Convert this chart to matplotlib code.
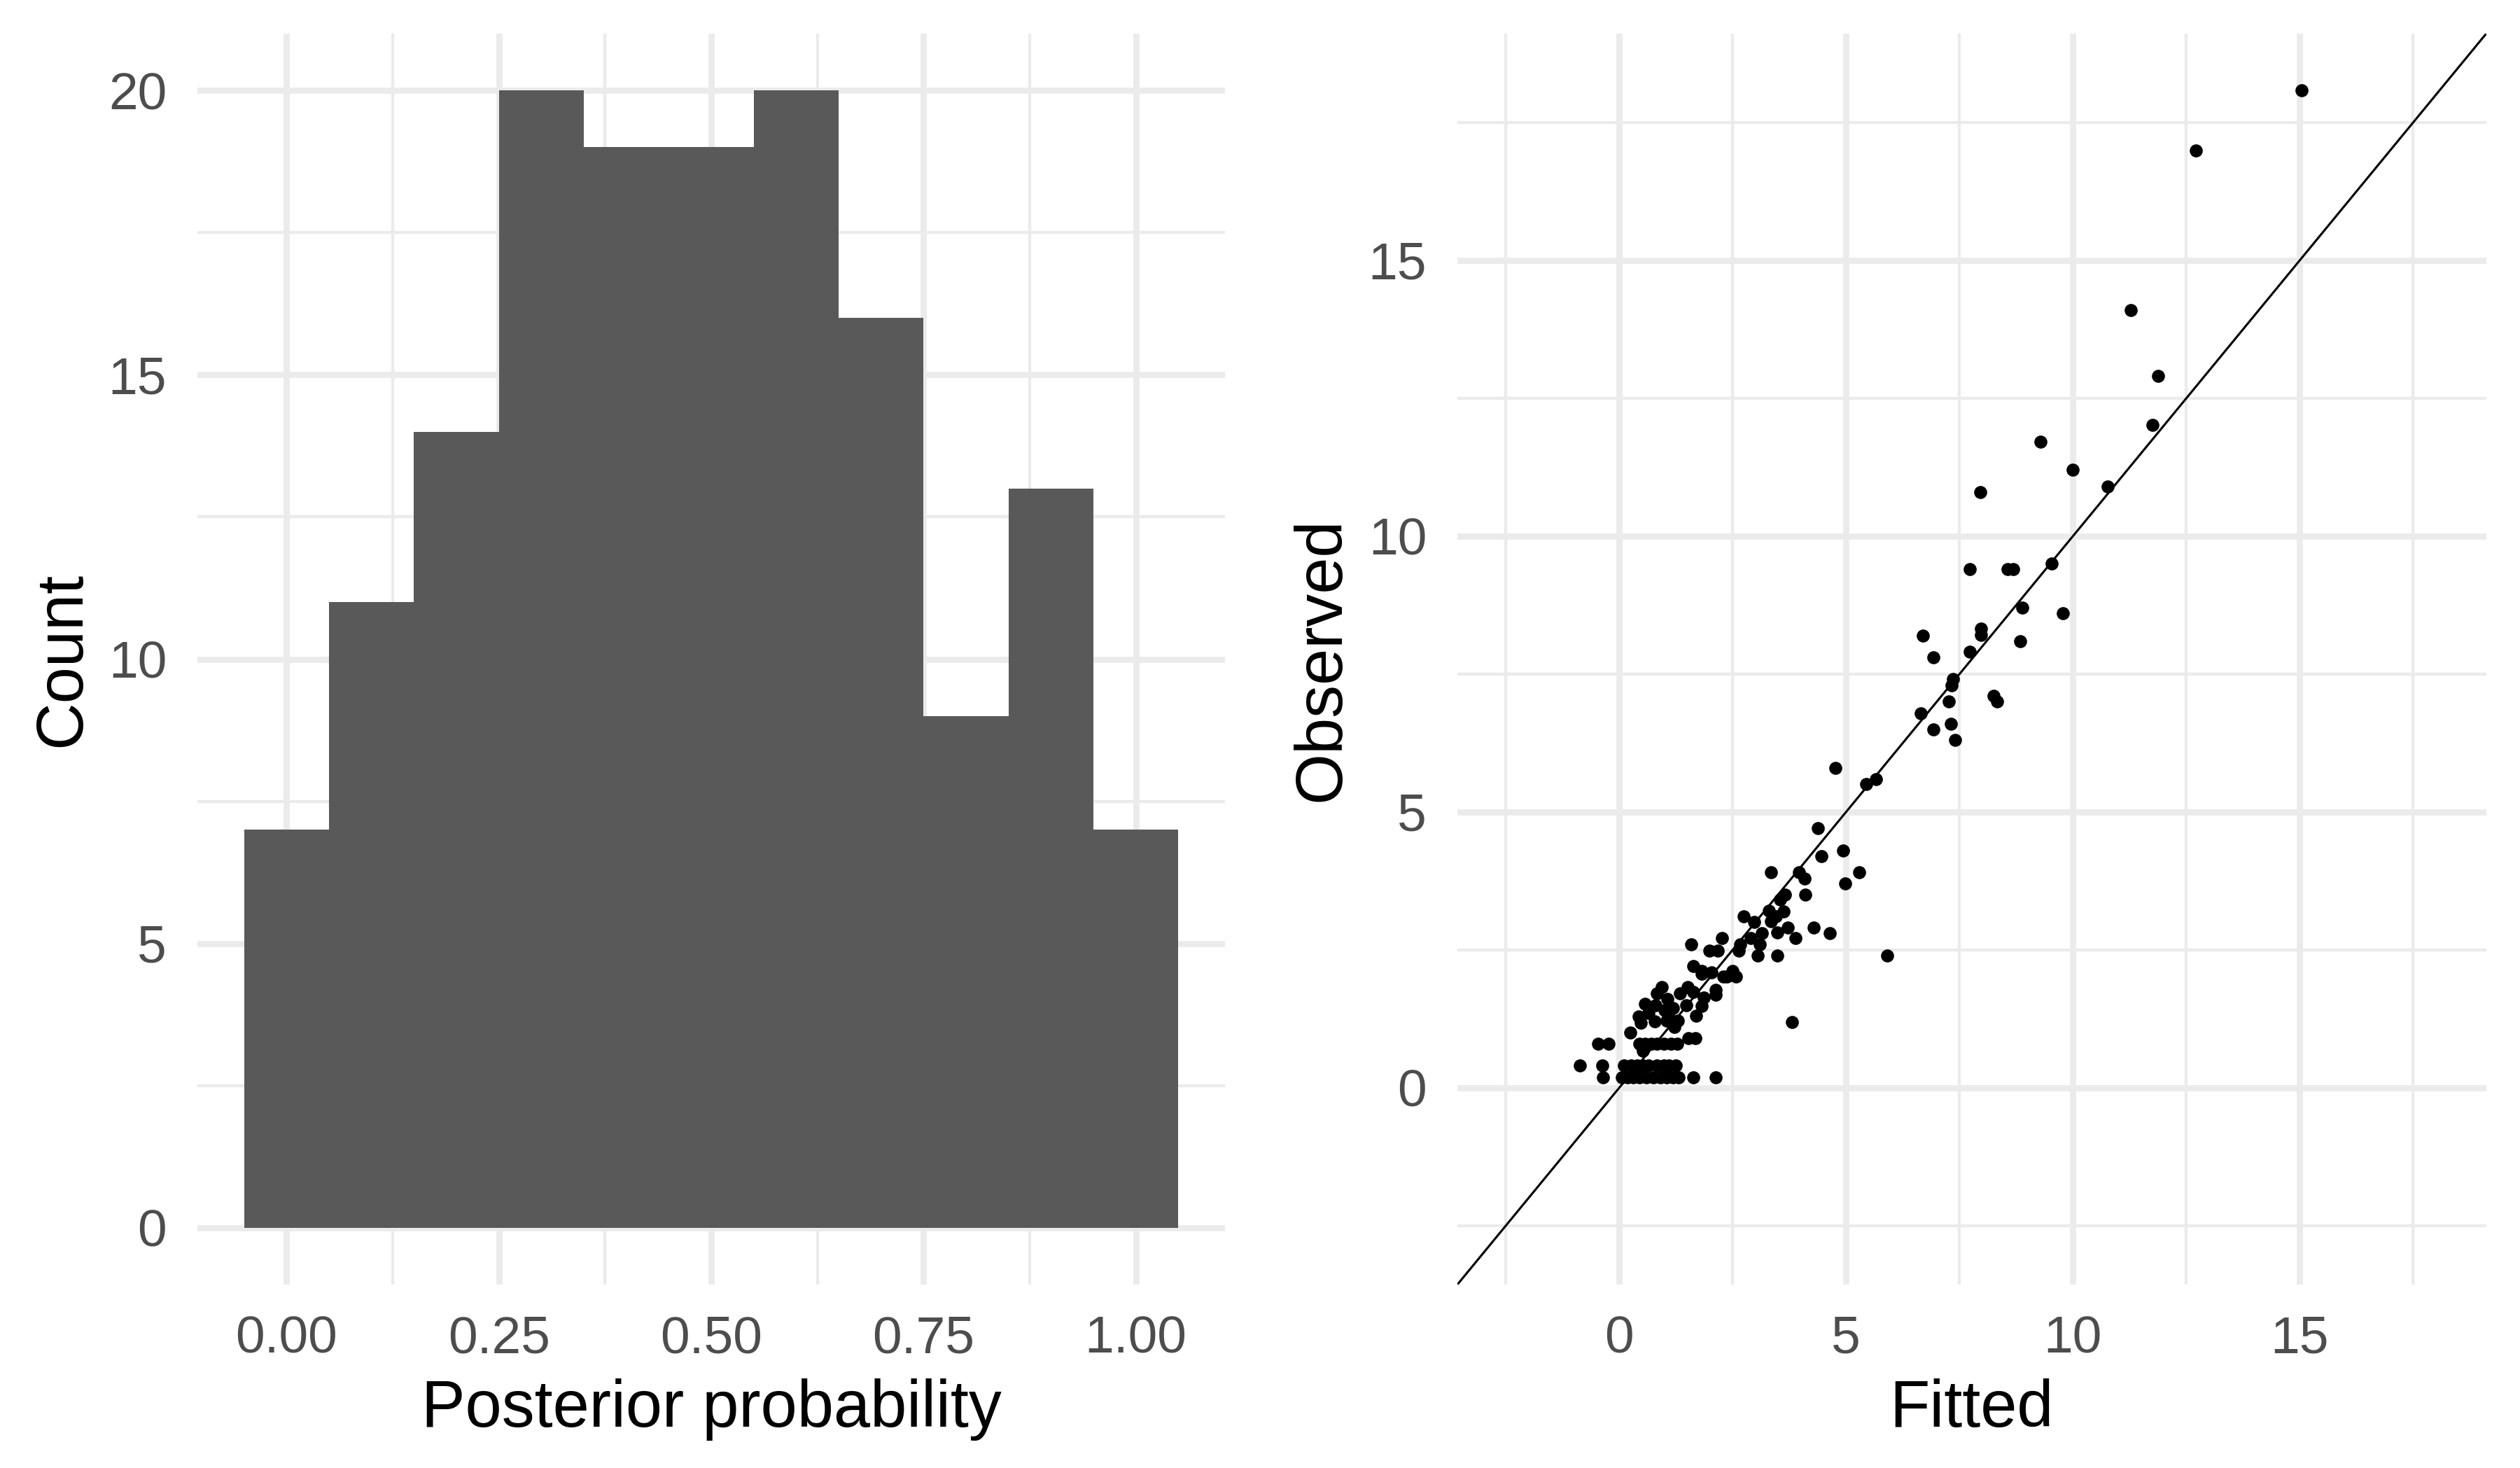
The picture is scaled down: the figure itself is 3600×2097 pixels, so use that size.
import matplotlib
matplotlib.use("Agg")
import matplotlib.pyplot as plt
import numpy as np

# ---------------- data ----------------
# Histogram of posterior probabilities (bin width 0.1)
bin_centers = [0.0, 0.1, 0.2, 0.3, 0.4, 0.5, 0.6, 0.7, 0.8, 0.9, 1.0]
bin_counts = [7, 11, 14, 20, 19, 19, 20, 16, 9, 13, 7]
bin_width = 0.1

# Scatter: fitted vs observed
fitted = [
    -0.87, -0.38, -0.36, -0.46, -0.23, 0.24,
    0.05, 0.18, 0.31, 0.45, 0.60, 0.75, 0.90, 1.05, 1.18, 1.30, 1.63, 2.12,
    0.11, 0.26, 0.39, 0.52, 0.65, 0.83, 0.98, 1.09, 1.24,
    0.52,
    0.44, 0.57, 0.70, 0.83, 0.98, 1.14, 1.27,
    1.53, 1.68,
    0.42, 0.57, 0.47, 0.78, 0.83, 0.94, 0.80, 1.06, 1.19, 1.11, 1.29, 1.04, 1.21,
    1.34, 1.50, 1.63, 1.47, 1.70, 1.81, 1.86, 2.12, 2.12, 2.37, 2.58, 1.81,
    1.00, 0.65,
    1.58, 2.27, 1.99, 2.17, 2.66, 2.63, 2.74, 2.97, 2.89, 3.15, 3.10, 3.05, 3.48,
    3.30, 3.35, 3.45, 3.62, 3.48, 3.72, 3.89, 1.63, 1.81, 2.04, 2.30, 2.50,
    4.38, 4.46, 4.94, 3.34, 3.96, 4.09, 5.29, 4.98, 4.10, 3.66, 3.54, 4.28, 4.64,
    3.81, 5.91,
    4.77, 5.44, 5.66,
    10.00, 10.76, 7.96, 7.72, 8.56, 8.69, 9.53, 8.88, 9.78, 6.70, 7.98, 7.98,
    8.84, 6.92, 7.72, 7.36, 7.32, 8.25, 8.33, 7.27, 6.65, 7.31, 6.92, 7.41,
    15.04, 12.71, 11.28, 11.87, 11.75, 9.29,
]
observed = [
    0.40, 0.40, 0.19, 0.80, 0.80, 1.00,
    0.19, 0.19, 0.19, 0.19, 0.19, 0.19, 0.19, 0.19, 0.19, 0.19, 0.19, 0.19,
    0.40, 0.40, 0.40, 0.40, 0.40, 0.40, 0.40, 0.40, 0.40,
    0.67,
    0.80, 0.80, 0.80, 0.80, 0.80, 0.80, 0.80,
    0.90, 0.90,
    1.29, 1.52, 1.18, 1.20, 1.71, 1.82, 1.50, 1.61, 1.44, 1.25, 1.22, 1.22, 1.10,
    1.71, 1.82, 1.73, 1.50, 1.31, 1.48, 1.63, 1.77, 1.69, 2.01, 2.01, 2.07,
    1.40, 1.35,
    2.60, 2.71, 2.49, 2.49, 2.60, 2.49, 3.11, 3.00, 2.71, 2.80, 2.60, 2.39, 2.39,
    3.21, 3.02, 3.10, 3.19, 2.81, 2.90, 2.71, 2.20, 2.11, 2.09, 2.01, 2.11,
    4.70, 4.20, 4.30, 3.90, 3.90, 3.79, 3.90, 3.70, 3.50, 3.50, 3.41, 2.90, 2.80,
    1.19, 2.40,
    5.80, 5.50, 5.60,
    11.20, 10.90, 10.80, 9.40, 9.40, 9.40, 9.50, 8.70, 8.60, 8.20, 8.32, 8.21,
    8.10, 7.80, 7.90, 7.41, 7.30, 7.11, 7.00, 7.00, 6.79, 6.60, 6.50, 6.30,
    18.08, 16.99, 14.10, 12.91, 12.01, 11.71,
]

hist_xticks = [0.0, 0.25, 0.5, 0.75, 1.0]
hist_xticklabels = ["0.00", "0.25", "0.50", "0.75", "1.00"]
hist_yticks = [0, 5, 10, 15, 20]
sc_ticks = [0, 5, 10, 15]

# ---------------- style ----------------
plt.rcParams['font.family'] = ['Liberation Sans', 'DejaVu Sans']
GRID = "#EBEBEB"
TICKC = "#4D4D4D"
TICK_FS = 18
TITLE_FS = 22.5
MAJ_LW = 2.1
MIN_LW = 1.05

fig = plt.figure(figsize=(12, 6.99), dpi=300)
ax1 = fig.add_axes([0.0783, 0.1249, 0.4078, 0.8522])
ax2 = fig.add_axes([0.5783, 0.1249, 0.4083, 0.8522])


def style(ax):
    for s in ax.spines.values():
        s.set_visible(False)
    ax.set_axisbelow(True)
    ax.grid(True, which='major', color=GRID, linewidth=MAJ_LW)
    ax.grid(True, which='minor', color=GRID, linewidth=MIN_LW)
    ax.tick_params(which='both', length=0)
    ax.tick_params(which='major', labelsize=TICK_FS, labelcolor=TICKC, pad=10.5)


# ---------------- histogram ----------------
ax1.bar(bin_centers, bin_counts, width=bin_width, color="#595959",
        edgecolor='none', linewidth=0)
xlo = min(bin_centers) - bin_width / 2
xhi = max(bin_centers) + bin_width / 2
xr = xhi - xlo
ax1.set_xlim(xlo - 0.05 * xr, xhi + 0.05 * xr)
ymax = max(bin_counts)
ax1.set_ylim(-0.05 * ymax, ymax * 1.05)
ax1.set_xticks(hist_xticks)
ax1.set_xticklabels(hist_xticklabels)
ax1.set_xticks([0.125, 0.375, 0.625, 0.875], minor=True)
ax1.set_yticks(hist_yticks)
ax1.set_yticks([2.5, 7.5, 12.5, 17.5], minor=True)
style(ax1)
ax1.set_xlabel("Posterior probability", fontsize=TITLE_FS, color='black', labelpad=5)
ax1.set_ylabel("Count", fontsize=TITLE_FS, color='black', labelpad=5)

# ---------------- scatter ----------------
lo = -2.54
hi = max(observed)
r = hi - lo
lim = (lo - 0.05 * r, hi + 0.05 * r)
ax2.scatter(fitted, observed, s=20, color='black', linewidths=0, zorder=3)
ax2.axline((0, 0), slope=1, color='black', linewidth=0.75, zorder=2)
ax2.set_xlim(lim)
ax2.set_ylim(lim)
ax2.set_xticks(sc_ticks)
ax2.set_yticks(sc_ticks)
ax2.set_xticks([-2.5, 2.5, 7.5, 12.5, 17.5], minor=True)
ax2.set_yticks([-2.5, 2.5, 7.5, 12.5, 17.5], minor=True)
style(ax2)
ax2.set_xlabel("Fitted", fontsize=TITLE_FS, color='black', labelpad=5)
ax2.set_ylabel("Observed", fontsize=TITLE_FS, color='black', labelpad=5)

fig.savefig("out.png", dpi=300, facecolor='white')
